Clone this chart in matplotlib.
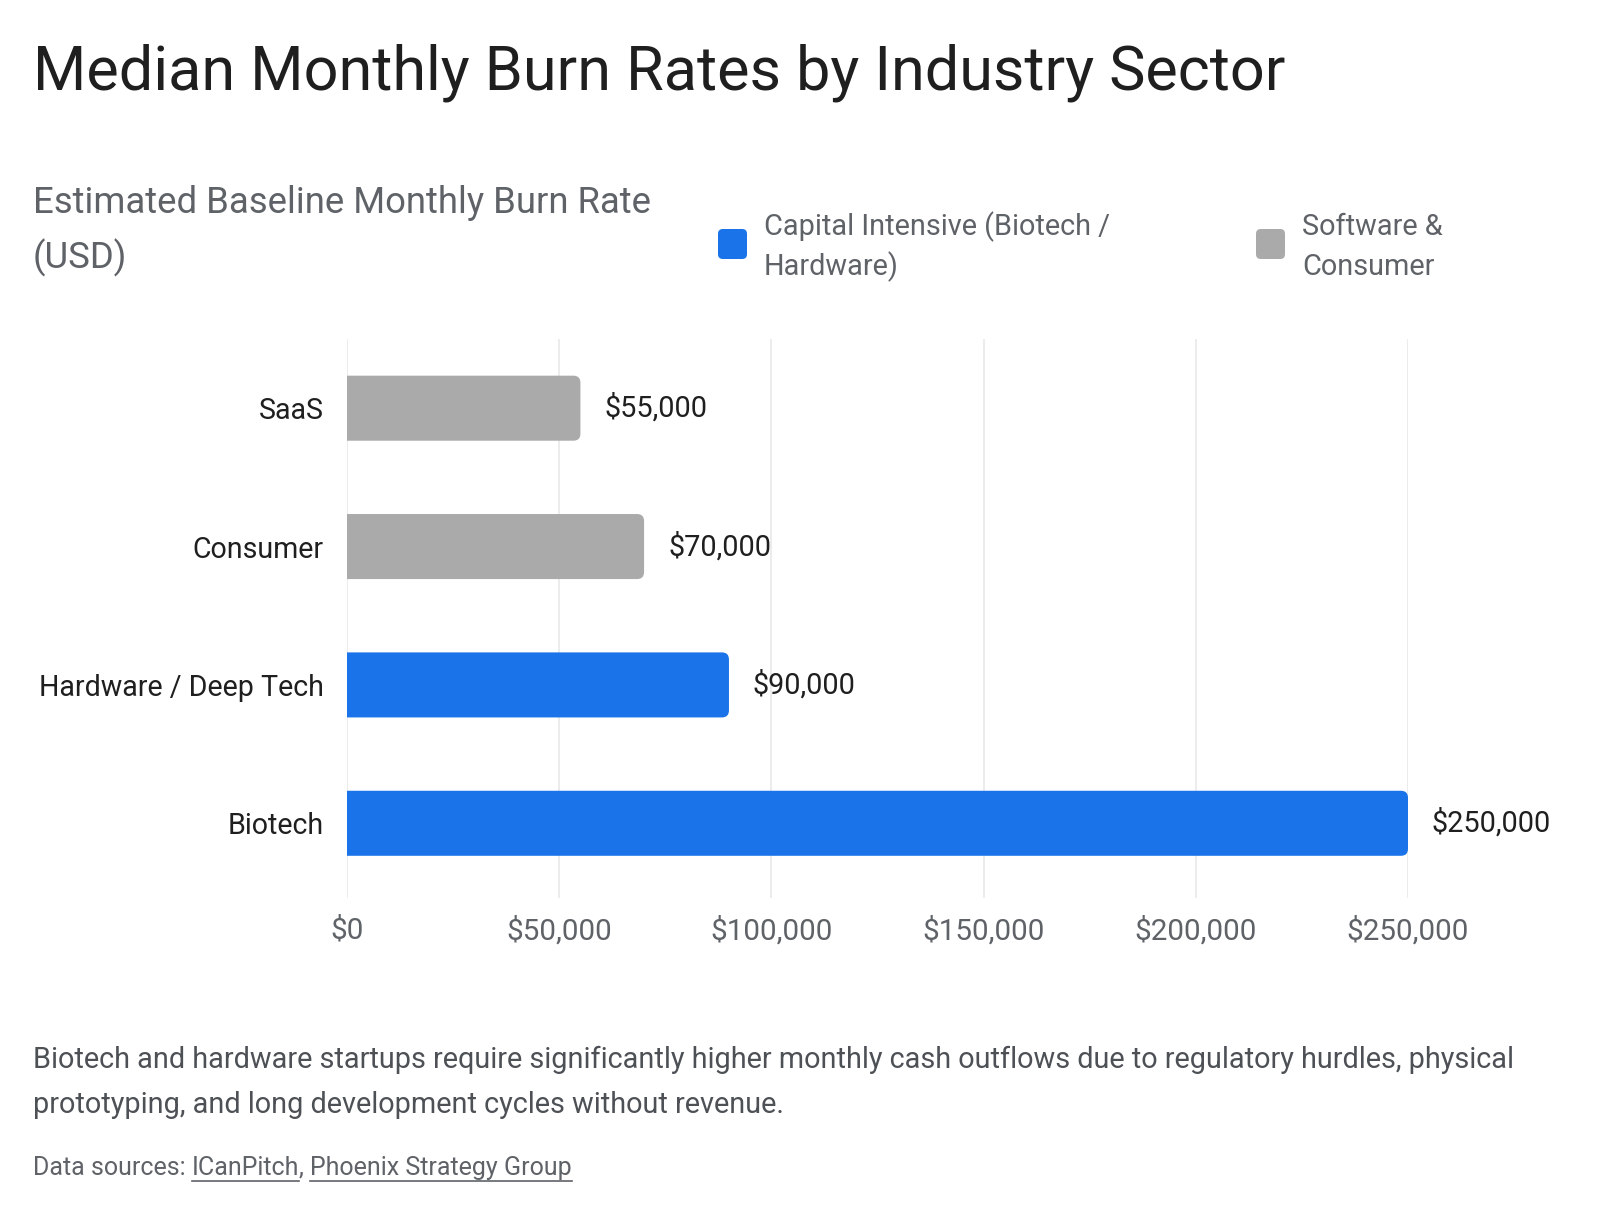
import matplotlib.pyplot as plt
from matplotlib.patches import FancyBboxPatch

sectors = ['Biotech', 'Hardware / Deep Tech', 'Consumer', 'SaaS']
burn = [250000, 90000, 70000, 55000]
groups = ['capital', 'capital', 'software', 'software']
ticks = [0, 50000, 100000, 150000, 200000, 250000]

colors = {'capital': '#1a73e8', 'software': '#aaaaaa'}
legend_labels = ['Capital Intensive (Biotech /\nHardware)', 'Software &\nConsumer']

plt.rcParams['font.family'] = ['Roboto', 'DejaVu Sans']

W, H = 1600, 1214
fig = plt.figure(figsize=(W / 100, H / 100), dpi=100)


def fx(x):
    return x / W


def fy(y):
    return 1 - y / H


ax = fig.add_axes([fx(347), fy(898), fx(1408) - fx(347), fy(339) - fy(898)])
ax.set_xlim(0, 250000)
ax.set_ylim(-0.54, 3.5)

# pixel -> data scale for the rounded bar ends
px_x = 250000 / (1408 - 347)
px_y = 4.04 / (898 - 339)
r_px = 7
bar_h = 0.47
for i, (v, g) in enumerate(zip(burn, groups)):
    r = r_px * px_x
    p = FancyBboxPatch((-r, i - bar_h / 2), v + r, bar_h,
                       boxstyle='round,pad=0,rounding_size=%f' % r,
                       mutation_aspect=px_y / px_x,
                       fc=colors[g], ec='none', zorder=3)
    ax.add_patch(p)
    ax.text(v + 24 * px_x, i, '${:,}'.format(v), va='center', ha='left',
            fontsize=20.8, color='#1f1f1f', clip_on=False)

ax.set_yticks(range(len(sectors)))
ax.set_yticklabels(sectors, fontsize=20.6, color='#1f1f1f')
ax.set_xticks(ticks)
ax.set_xticklabels(['${:,}'.format(t) for t in ticks], fontsize=21.3, color='#5f6368')
ax.tick_params(axis='both', length=0)
ax.tick_params(axis='y', pad=17)
ax.tick_params(axis='x', pad=13)
ax.grid(axis='x', color='#ebebeb', linewidth=1.3, zorder=0)
ax.set_axisbelow(True)
for s in ax.spines.values():
    s.set_visible(False)

# titles
fig.text(fx(33), fy(90), 'Median Monthly Burn Rates by Industry Sector',
         fontsize=44, color='#1f1f1f', va='baseline')
fig.text(fx(33), fy(213), 'Estimated Baseline Monthly Burn Rate',
         fontsize=26.3, color='#5f6368', va='baseline')
fig.text(fx(33), fy(268), '(USD)', fontsize=26.3, color='#5f6368', va='baseline')

# legend
for (sx, tx), key, lab in zip([(718, 764), (1256, 1302)], ['capital', 'software'], legend_labels):
    sq = FancyBboxPatch((fx(sx), fy(259)), fx(29), fy(229) - fy(259),
                        boxstyle='round,pad=0,rounding_size=0.003',
                        mutation_aspect=W / H,
                        transform=fig.transFigure, fc=colors[key], ec='none')
    fig.patches.append(sq)
    l1, l2 = lab.split('\n')
    fig.text(fx(tx), fy(235), l1, fontsize=20.8, color='#5f6368', va='baseline')
    fig.text(fx(tx), fy(275), l2, fontsize=20.8, color='#5f6368', va='baseline')

# caption
fig.text(fx(33), fy(1068), 'Biotech and hardware startups require significantly higher monthly cash '
         'outflows due to regulatory hurdles, physical', fontsize=20.8, color='#4d5156', va='baseline')
fig.text(fx(33), fy(1113), 'prototyping, and long development cycles without revenue.',
         fontsize=20.8, color='#4d5156', va='baseline')

# sources with underlined links
renderer = fig.canvas.get_renderer()
x = fx(33)
for part, link in [('Data sources: ', False), ('ICanPitch', True), (', ', False),
                   ('Phoenix Strategy Group', True)]:
    t = fig.text(x, fy(1175), part, fontsize=18, color='#5f6368', va='baseline')
    bb = t.get_window_extent(renderer).transformed(fig.transFigure.inverted())
    if link:
        fig.add_artist(plt.Line2D([bb.x0, bb.x1], [fy(1181), fy(1181)],
                                  transform=fig.transFigure, color='#5f6368', lw=1.2))
    x = bb.x1

fig.savefig('out.png', dpi=100)
